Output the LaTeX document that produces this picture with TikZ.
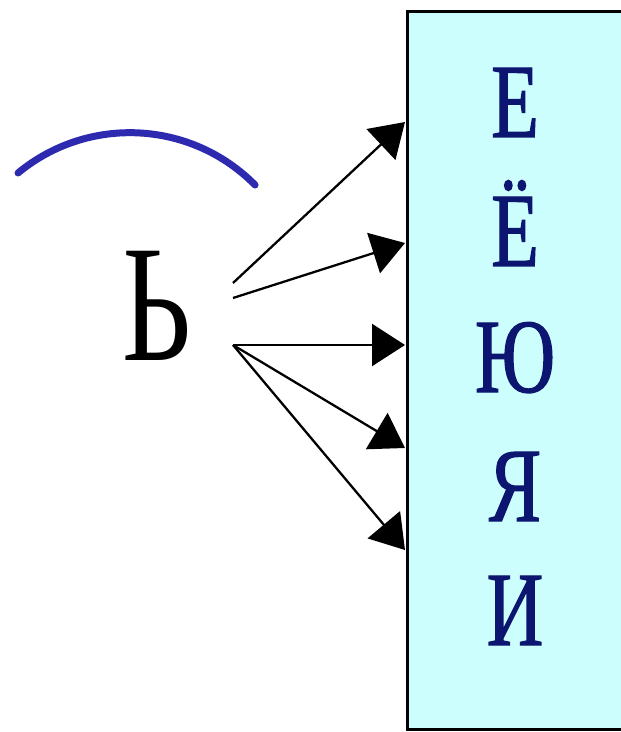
\documentclass[tikz,border=0pt]{standalone}
\usepackage{fontspec}
\setmainfont{Liberation Serif}
\newfontfamily\tallserif[FakeStretch=0.72]{Liberation Serif}
\newfontfamily\tallvowel[FakeStretch=0.74, FakeBold=1.2]{Liberation Serif}
\definecolor{arcBlue}{RGB}{45,42,175}
\definecolor{vowelNavy}{RGB}{12,22,112}
\definecolor{boxCyan}{RGB}{205,254,254}
\usetikzlibrary{arrows.meta,positioning}

\begin{document}
\begin{tikzpicture}[x=0.02cm, y=-0.02cm,
    vowel/.style={font=\tallvowel\fontsize{60}{60}\selectfont, text=vowelNavy,
                  inner sep=0pt, anchor=base},
    link/.style={-{Triangle[length=0.66cm, width=0.84cm]}, line width=1.3pt}
  ]
  \useasboundingbox (0,0) rectangle (620,732);

  % box with the vowels
  \node[draw=black, line width=1.8pt, fill=boxCyan, anchor=north west,
        minimum width=4.8cm, minimum height=14.36cm, inner sep=0pt]
    (box) at (406,10) {};
  \node[vowel] (ve)  at (515,137) {Е};
  \node[vowel] (vyo) at (515,266) {Ё};
  \node[vowel] (vyu) at (515,392) {Ю};
  \node[vowel] (vya) at (515,521) {Я};
  \node[vowel] (vi)  at (515,645) {И};

  % soft sign
  \node[font=\tallserif\fontsize{95}{95}\selectfont, inner sep=0pt, anchor=base]
    (soft) at (157,360) {Ь};
  \draw[arcBlue, line width=0.14cm, line cap=round]
    (18,173) arc[start angle=-129.6, end angle=-44.6, radius=175.7];

  \coordinate (s1) at (233,283);
  \coordinate (s2) at (233,298);
  \coordinate (s3) at (233,345);
  \coordinate (t1) at (405,122);
  \coordinate (t2) at (405,243);
  \coordinate (t3) at (405,345);
  \coordinate (t4) at (405,448);
  \coordinate (t5) at (405,550);
  \draw[link] (s1) -- (t1);
  \draw[link] (s2) -- (t2);
  \draw[link] (s3) -- (t3);
  \draw[link] (s3) -- (t4);
  \draw[link] (s3) -- (t5);
\end{tikzpicture}
\end{document}
